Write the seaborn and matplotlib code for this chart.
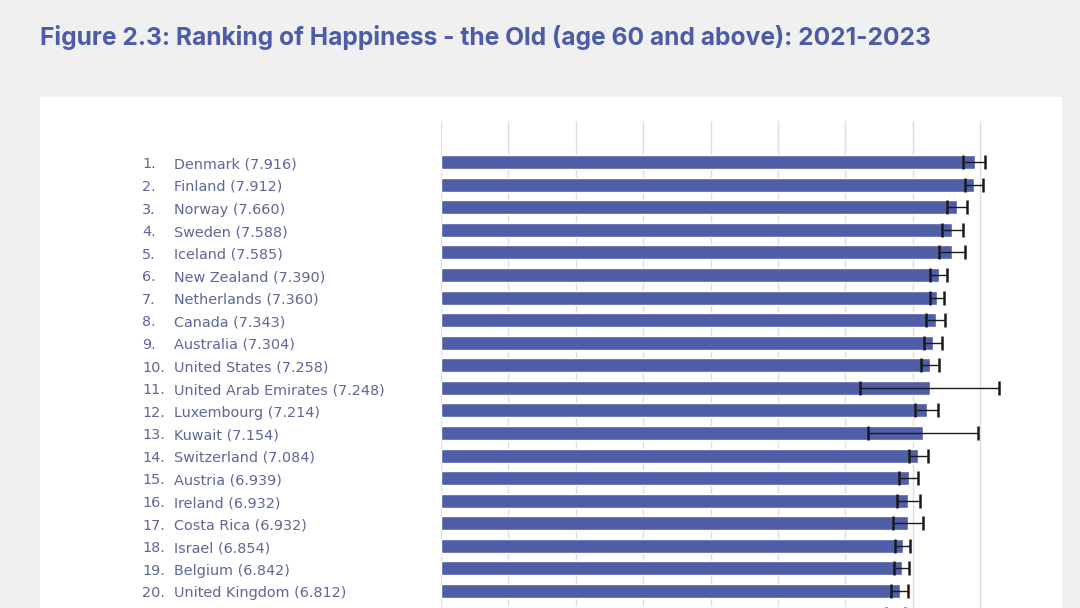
import numpy as np
import pandas as pd
import seaborn as sns
import matplotlib.pyplot as plt
from matplotlib.patches import Rectangle
from matplotlib.transforms import blended_transform_factory

# ranks 1-21 (row 21 is cut off at the bottom of the reference; only its bar shows)
COUNTRIES = ["Denmark", "Finland", "Norway", "Sweden", "Iceland", "New Zealand",
             "Netherlands", "Canada", "Australia", "United States",
             "United Arab Emirates", "Luxembourg", "Kuwait", "Switzerland",
             "Austria", "Ireland", "Costa Rica", "Israel", "Belgium",
             "United Kingdom", "Germany"]
SCORES = [7.916, 7.912, 7.660, 7.588, 7.585, 7.390, 7.360, 7.343, 7.304, 7.258,
          7.248, 7.214, 7.154, 7.084, 6.939, 6.932, 6.932, 6.854, 6.842, 6.812,
          6.720]
# 95% interval bounds
CI_LOW = [7.749, 7.774, 7.503, 7.433, 7.389, 7.260, 7.250, 7.200, 7.170, 7.126,
          6.217, 7.037, 6.340, 6.944, 6.800, 6.761, 6.711, 6.731, 6.721, 6.677,
          6.600]
CI_HIGH = [8.071, 8.037, 7.809, 7.740, 7.770, 7.512, 7.458, 7.482, 7.430, 7.384,
           8.279, 7.378, 7.967, 7.221, 7.073, 7.102, 7.147, 6.963, 6.948, 6.934,
           6.890]
N_LABELLED = 20  # rows whose labels are visible
X_TICKS = list(range(0, 9))

TITLE = "Figure 2.3: Ranking of Happiness - the Old (age 60 and above): 2021-2023"
BAR_COLOR = "#4f5ea7"
TEXT_COLOR = "#5e6796"
TITLE_COLOR = "#4d5ca6"
BG = "#f0f0f0"


def main():
    df = pd.DataFrame({"country": COUNTRIES, "score": SCORES,
                       "lo": CI_LOW, "hi": CI_HIGH})

    sns.set_theme(style="white")
    plt.rcParams["font.family"] = ["Lato", "DejaVu Sans"]

    W, H = 1080, 608
    fig = plt.figure(figsize=(W / 100, H / 100), dpi=100, facecolor=BG)

    # white card behind the chart
    fig.patches.append(Rectangle((40 / W, 0), (1062 - 40) / W, (H - 97) / H,
                                 transform=fig.transFigure, facecolor="white",
                                 edgecolor="none", zorder=-1))

    fig.text(40 / W, 1 - 37 / H, TITLE, ha="left", va="center",
             fontsize=17.7, fontweight="bold", color=TITLE_COLOR,
             family=["Inter", "DejaVu Sans"])

    ax = fig.add_axes([441 / W, 0, (1062 - 441) / W, (H - 121) / H])
    ax.set_zorder(1)
    ax.set_facecolor("none")

    sns.barplot(data=df, x="score", y="country", orient="h", color=BAR_COLOR,
                saturation=1, width=0.62, errorbar=None, ax=ax, zorder=2)

    pos = np.arange(len(df))
    xerr = [df["score"] - df["lo"], df["hi"] - df["score"]]
    ax.errorbar(df["score"], pos, xerr=xerr, fmt="none", ecolor="#1a1a1a",
                elinewidth=1.0, capsize=4.8, capthick=1.8, zorder=3)

    ax.set_xlim(0, (1062 - 441) / 67.4)
    ax.set_ylim(19.75, -1.82)
    ax.set_xticks(X_TICKS)
    ax.set_yticks([])
    ax.tick_params(axis="x", labelbottom=False, length=0)
    ax.grid(axis="x", color="#dcdeec", linewidth=1.0, zorder=0)
    ax.set_axisbelow(True)
    for side in ax.spines:
        ax.spines[side].set_visible(False)
    ax.set_xlabel("")
    ax.set_ylabel("")

    label_font = dict(fontsize=10.4, color=TEXT_COLOR, family="DejaVu Sans",
                      ha="left", va="center", clip_on=False)
    trans = blended_transform_factory(fig.transFigure, ax.transData)
    for i, (c, s) in enumerate(zip(COUNTRIES[:N_LABELLED], SCORES)):
        ax.text(142 / W, i + 0.1, f"{i + 1}.", transform=trans, **label_font)
        ax.text(174 / W, i + 0.1, f"{c} ({s:.3f})", transform=trans, **label_font)

    fig.savefig("out.png", dpi=100, facecolor=BG)


if __name__ == "__main__":
    main()
